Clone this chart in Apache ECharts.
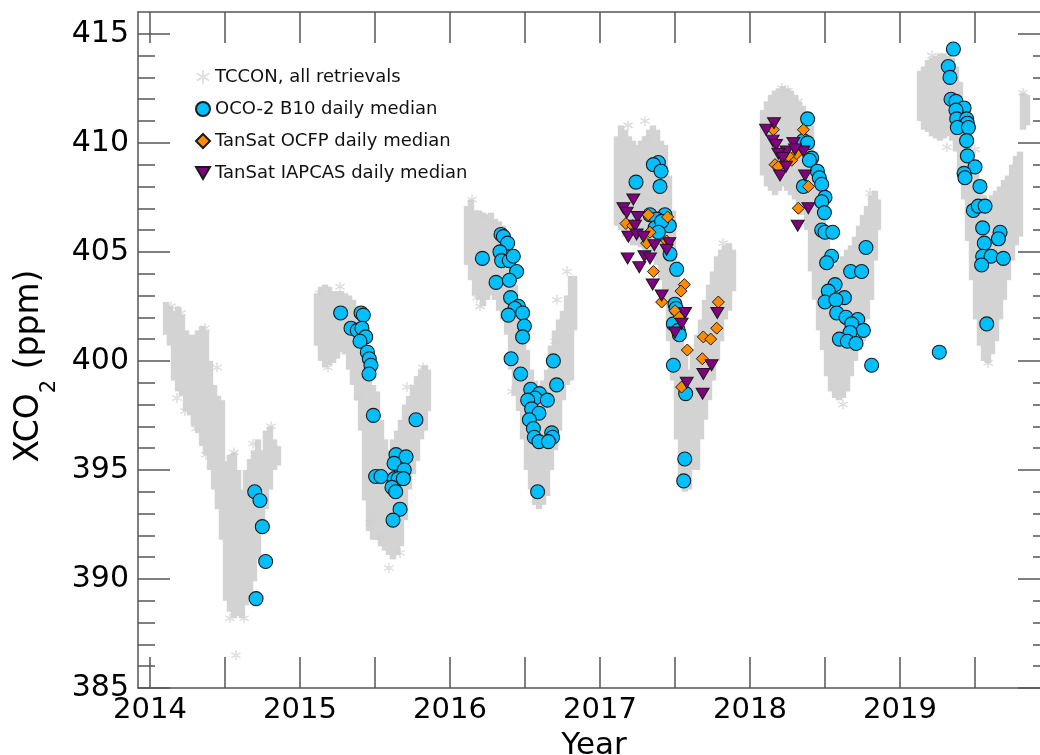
<!DOCTYPE html>
<html><head><meta charset="utf-8">
<script src="https://cdn.jsdelivr.net/npm/echarts@6/dist/echarts.min.js"></script>
<style>html,body{margin:0;padding:0;background:#fff}#c{width:1040px;height:755px}</style>
</head><body><div id="c"></div>
<script>
// ---- tick labels ----
const yearTicks = [2014, 2015, 2016, 2017, 2018, 2019];
const halfYearTicks = [2014, 2014.5, 2015, 2015.5, 2016, 2016.5, 2017, 2017.5, 2018, 2018.5, 2019, 2019.5];
const ppmMajorTicks = [385, 390, 395, 400, 405, 410, 415];
const ppmMinorTicks = [386,387,388,389,391,392,393,394,396,397,398,399,401,402,403,404,406,407,408,409,411,412,413,414,415];

// ---- TCCON, all retrievals: dense cloud read as [year, low ppm, high ppm] ----
const tcconBand = [
[2014.107,401.2,402.7],[2014.133,400.7,402.5],[2014.160,399.1,402.3],[2014.187,398.6,402.5],[2014.213,398.4,402.1],
[2014.240,397.7,401.4],[2014.267,397.5,401.2],[2014.293,397.0,401.2],[2014.320,396.7,401.4],[2014.347,396.1,401.6],
[2014.373,395.7,401.4],[2014.400,395.0,400.0],[2014.427,394.1,398.9],[2014.453,393.2,398.4],[2014.480,391.8,398.2],
[2014.507,389.0,395.4],[2014.533,388.5,395.7],[2014.560,388.2,395.8],[2014.587,388.3,395.0],[2014.613,388.2,394.1],
[2014.640,388.8,395.0],[2014.667,389.0,395.5],[2014.693,389.9,395.9],[2014.720,390.9,396.4],[2014.747,392.7,395.9],
[2014.773,393.2,396.8],[2014.800,394.1,397.0],[2014.827,395.0,396.4],[2014.853,395.2,396.1],
[2015.113,400.7,403.1],[2015.140,400.0,403.4],[2015.167,399.7,403.5],[2015.193,399.8,403.4],[2015.220,399.9,403.2],
[2015.247,400.1,403.2],[2015.273,400.4,403.2],[2015.300,400.3,403.1],[2015.327,399.6,403.0],[2015.353,398.9,402.8],
[2015.380,398.2,402.5],[2015.407,396.8,401.4],[2015.433,393.6,400.9],[2015.460,392.2,399.6],[2015.487,391.8,398.9],
[2015.513,391.8,398.6],[2015.540,391.5,397.3],[2015.567,391.3,396.4],[2015.593,391.1,395.9],[2015.620,390.9,396.4],
[2015.647,391.1,396.8],[2015.673,391.5,397.3],[2015.700,392.7,398.0],[2015.727,394.1,398.4],[2015.753,394.8,398.9],
[2015.780,395.4,399.3],[2015.807,396.4,399.6],[2015.833,396.8,399.8],[2015.853,397.7,399.6],
[2016.113,404.4,407.1],[2016.140,403.7,407.4],[2016.167,403.0,406.9],[2016.193,402.8,406.9],[2016.220,402.5,406.8],
[2016.247,402.8,406.7],[2016.273,403.0,406.8],[2016.300,402.8,406.5],[2016.327,402.3,406.4],[2016.353,401.9,406.2],
[2016.380,401.2,405.5],[2016.407,399.6,404.6],[2016.433,398.4,403.5],[2016.460,397.7,402.8],[2016.487,396.4,401.4],
[2016.513,395.0,400.5],[2016.540,394.1,399.6],[2016.567,393.4,399.1],[2016.593,393.2,398.9],[2016.620,393.4,399.1],
[2016.647,393.8,399.6],[2016.673,395.0,400.7],[2016.700,395.9,401.4],[2016.727,396.8,401.9],[2016.753,398.2,402.3],
[2016.780,398.9,403.0],[2016.807,399.1,403.9],[2016.827,401.4,403.9],
[2017.113,406.2,410.3],[2017.140,406.0,410.8],[2017.167,405.7,410.6],[2017.193,405.5,410.3],[2017.220,405.3,410.1],
[2017.247,405.3,409.9],[2017.273,405.2,410.1],[2017.300,405.1,410.3],[2017.327,404.8,410.6],[2017.353,404.6,410.8],
[2017.380,404.4,410.6],[2017.407,403.7,410.1],[2017.433,402.8,409.9],[2017.460,400.9,408.5],[2017.487,399.1,406.9],
[2017.513,396.4,404.6],[2017.540,394.5,402.3],[2017.567,394.0,400.5],[2017.593,394.1,399.6],[2017.620,395.0,400.5],
[2017.647,395.0,401.2],[2017.673,396.4,401.9],[2017.700,397.3,402.8],[2017.727,398.2,403.5],[2017.753,399.1,404.1],
[2017.780,400.0,404.8],[2017.807,400.9,405.1],[2017.833,401.9,405.3],[2017.860,402.3,405.4],[2017.887,403.2,405.1],
[2018.087,408.5,411.5],[2018.113,408.0,411.9],[2018.140,407.8,412.2],[2018.167,407.6,412.4],[2018.193,407.8,412.5],
[2018.220,408.0,412.6],[2018.247,407.8,412.5],[2018.273,407.6,412.4],[2018.300,407.4,412.2],[2018.327,407.1,411.9],
[2018.353,406.7,411.7],[2018.380,406.0,411.2],[2018.407,404.1,410.8],[2018.433,402.8,409.6],[2018.460,401.4,408.5],
[2018.487,400.5,407.4],[2018.513,399.3,406.0],[2018.540,398.6,405.1],[2018.567,398.3,404.4],[2018.593,398.2,404.6],
[2018.620,398.3,404.8],[2018.647,398.6,405.1],[2018.673,399.3,405.3],[2018.700,400.0,405.7],[2018.727,400.5,406.2],
[2018.753,400.9,406.7],[2018.780,401.9,407.1],[2018.807,402.8,407.6],[2018.833,404.6,407.8],[2018.853,406.0,407.4],
[2019.133,411.0,413.3],[2019.160,410.6,413.5],[2019.187,410.5,413.8],[2019.213,410.3,413.9],[2019.240,410.2,414.0],
[2019.267,410.1,414.1],[2019.293,410.2,414.1],[2019.320,410.3,414.0],[2019.347,410.1,413.9],[2019.373,409.6,413.5],
[2019.400,408.7,412.8],[2019.427,407.4,411.5],[2019.453,405.5,410.1],[2019.480,403.7,409.2],[2019.507,401.9,408.7],
[2019.533,400.7,408.3],[2019.560,400.0,407.6],[2019.587,399.9,407.4],[2019.613,400.3,407.6],[2019.640,400.9,407.8],
[2019.667,401.9,408.0],[2019.693,402.8,408.3],[2019.720,403.7,408.5],[2019.747,404.6,409.0],[2019.773,405.3,409.4],
[2019.800,405.7,409.6],[2019.820,410.6,412.3],[2019.847,410.8,412.2]
];
// isolated TCCON retrievals outside the dense cloud [year, ppm]
const tcconOutliers = [
[2014.447,399.7],[2014.687,396.2],[2014.807,397.0],[2014.573,386.5],[2014.533,388.2],[2014.627,388.2],[2014.233,397.7],
[2014.307,396.9],[2014.373,395.7],[2014.180,398.3],[2014.140,402.5],[2014.207,402.2],[2014.367,401.5],[2014.560,395.8],
[2015.593,390.5],[2015.467,392.6],[2015.533,391.9],[2015.667,391.2],[2015.820,399.7],[2015.713,398.8],[2015.400,398.3],
[2015.133,403.1],[2015.267,403.4],[2015.187,399.7],
[2016.147,407.4],[2016.220,406.6],[2016.287,406.4],[2016.180,402.9],[2016.200,402.5],[2016.713,402.8],[2016.700,400.9],
[2016.413,398.6],[2016.580,393.5],[2016.780,404.1],
[2017.187,410.8],[2017.300,411.0],[2017.320,410.2],[2017.820,405.4],
[2018.213,412.5],[2018.253,412.4],[2018.320,411.9],[2018.620,398.0],[2018.800,407.7],
[2019.213,414.0],[2019.313,409.8],[2019.587,399.9],[2019.820,412.3],[2019.500,409.7]
];

// ---- OCO-2 B10 daily median [year, ppm] ----
const oco2 = [
[2014.698,394.0],[2014.733,393.6],[2014.749,392.4],[2014.771,390.8],[2014.707,389.1],
[2015.271,402.2],[2015.407,402.2],[2015.422,402.1],[2015.340,401.5],[2015.382,401.4],[2015.413,401.5],[2015.438,401.1],
[2015.400,400.9],[2015.449,400.4],[2015.462,400.1],[2015.473,399.8],[2015.460,399.4],[2015.489,397.5],[2015.773,397.3],
[2015.504,394.7],[2015.540,394.7],[2015.640,395.7],[2015.707,395.6],[2015.627,395.3],[2015.695,395.0],[2015.629,394.6],
[2015.655,394.6],[2015.689,394.6],[2015.613,394.2],[2015.638,394.0],[2015.667,393.2],[2015.620,392.7],
[2016.216,404.7],[2016.340,405.8],[2016.356,405.7],[2016.384,405.4],[2016.333,405.0],[2016.344,404.6],[2016.395,404.6],
[2016.422,404.8],[2016.307,403.6],[2016.444,404.1],[2016.396,403.7],[2016.404,402.9],[2016.456,402.5],[2016.433,402.4],
[2016.484,402.2],[2016.389,402.1],[2016.496,401.6],[2016.484,401.1],[2016.407,400.1],[2016.689,400.0],[2016.471,399.4],
[2016.711,398.9],[2016.538,398.7],[2016.596,398.5],[2016.567,398.3],[2016.518,398.2],[2016.649,398.2],[2016.544,397.8],
[2016.593,397.6],[2016.529,397.3],[2016.556,396.9],[2016.678,396.7],[2016.684,396.5],[2016.562,396.5],[2016.593,396.3],
[2016.656,396.3],[2016.584,394.0],
[2017.389,409.1],[2017.356,409.0],[2017.407,408.7],[2017.240,408.2],[2017.400,408.0],[2017.333,406.7],[2017.433,406.7],
[2017.378,406.5],[2017.462,406.2],[2017.367,406.1],[2017.411,406.4],[2017.389,405.9],[2017.467,404.9],[2017.511,404.2],
[2017.500,402.6],[2017.507,402.4],[2017.489,401.7],[2017.522,401.4],[2017.529,401.2],[2017.489,399.8],[2017.571,398.5],
[2017.565,395.5],[2017.558,394.5],
[2018.384,411.1],[2018.356,410.1],[2018.384,410.0],[2018.411,409.3],[2018.396,409.2],[2018.449,408.7],[2018.462,408.4],
[2018.478,408.1],[2018.356,408.0],[2018.500,407.5],[2018.478,407.3],[2018.496,406.8],[2018.478,406.0],[2018.500,405.9],
[2018.551,405.9],[2018.773,405.2],[2018.544,404.8],[2018.511,404.5],[2018.671,404.1],[2018.744,404.1],[2018.567,403.5],
[2018.522,403.2],[2018.629,402.9],[2018.500,402.7],[2018.573,402.8],[2018.578,402.2],[2018.640,402.0],[2018.718,401.9],
[2018.678,401.7],[2018.756,401.4],[2018.667,401.3],[2018.596,401.0],[2018.649,400.9],[2018.707,400.8],[2018.811,399.8],
[2019.356,414.3],[2019.322,413.5],[2019.333,413.0],[2019.340,412.0],[2019.373,411.9],[2019.427,411.6],[2019.373,411.5],
[2019.378,411.1],[2019.444,411.1],[2019.449,410.9],[2019.382,410.7],[2019.456,410.7],[2019.444,410.1],[2019.449,409.4],
[2019.500,408.9],[2019.427,408.6],[2019.433,408.4],[2019.533,408.0],[2019.489,406.9],[2019.522,407.1],[2019.567,407.1],
[2019.551,406.1],[2019.667,405.9],[2019.656,405.6],[2019.562,405.4],[2019.551,404.8],[2019.607,404.8],[2019.689,404.7],
[2019.544,404.4],[2019.578,401.7],[2019.262,400.4]
];

// ---- TanSat OCFP daily median [year, ppm] ----
const ocfp = [
[2017.322,406.7],[2017.451,406.6],[2017.173,406.3],[2017.218,406.2],[2017.333,405.9],[2017.311,405.4],[2017.444,405.5],
[2017.356,404.1],[2017.562,403.5],[2017.540,403.2],[2017.411,402.7],[2017.789,402.7],[2017.500,402.3],[2017.529,402.0],
[2017.778,401.5],[2017.689,401.1],[2017.738,401.0],[2017.582,400.5],[2017.682,400.1],[2017.544,398.8],
[2018.156,410.6],[2018.356,410.6],[2018.167,409.0],[2018.189,408.9],[2018.278,409.2],[2018.311,409.5],[2018.256,409.4],
[2018.389,408.0],[2018.322,407.0]
];

// ---- TanSat IAPCAS daily median [year, ppm] ----
const iapcas = [
[2017.222,407.4],[2017.156,407.0],[2017.178,406.8],[2017.251,406.6],[2017.233,406.2],[2017.189,405.7],[2017.244,405.8],
[2017.289,405.7],[2017.362,405.3],[2017.462,405.4],[2017.444,405.1],[2017.184,404.7],[2017.296,404.8],[2017.333,404.7],
[2017.262,404.3],[2017.351,403.5],[2017.411,403.0],[2017.567,402.2],[2017.782,402.2],[2017.544,401.7],[2017.500,401.3],
[2017.744,399.8],[2017.689,399.4],[2017.578,399.0],[2017.684,398.5],
[2018.160,410.9],[2018.107,410.6],[2018.151,410.1],[2018.173,409.9],[2018.289,410.0],[2018.356,409.6],[2018.244,409.6],
[2018.300,409.7],[2018.189,409.5],[2018.218,409.3],[2018.200,408.5],[2018.240,408.9],[2018.367,408.5],[2018.389,407.0],
[2018.318,406.2]
];

const FONT = 'DejaVu Sans';
const AX = '#555';
const STAR = 'path://M4.4,0L5.6,0L5.6,10L4.4,10ZM0.37,3.02L0.97,1.98L9.63,6.98L9.03,8.02ZM9.63,3.02L9.03,1.98L0.37,6.98L0.97,8.02Z';
const TRI_DOWN = 'path://M0,0L10,0L5,8.66Z';
const X_MIN = 2013.92, X_MAX = 2020, Y_MIN = 385, Y_MAX = 416;

function xAx(pos) {
  return {
    type: 'value', position: pos, min: X_MIN, max: X_MAX,
    splitLine: {show: false},
    axisLine: {show: true, onZero: false, lineStyle: {color: AX, width: 1.5}},
    axisTick: {show: true, inside: true, length: 31, customValues: halfYearTicks, lineStyle: {color: AX, width: 1.5}},
    axisLabel: pos === 'bottom'
      ? {show: true, customValues: yearTicks, formatter: v => String(Math.round(v)), fontSize: 29, fontFamily: FONT, color: '#000', margin: 8}
      : {show: false}
  };
}
function yAx(pos, major) {
  return {
    type: 'value', position: pos, min: Y_MIN, max: Y_MAX,
    splitLine: {show: false},
    axisLine: {show: major, onZero: false, lineStyle: {color: AX, width: 1.5}},
    axisTick: {show: true, inside: true, length: major ? 32 : 17, customValues: major ? ppmMajorTicks : ppmMinorTicks, lineStyle: {color: AX, width: 1.5}},
    axisLabel: (major && pos === 'left')
      ? {show: true, customValues: ppmMajorTicks, formatter: v => String(Math.round(v)), fontSize: 30, fontFamily: FONT, color: '#000', margin: 9}
      : {show: false}
  };
}

const chart = echarts.init(document.getElementById('c'), null, {renderer: 'canvas'});
chart.setOption({
  animation: false,
  backgroundColor: '#fff',
  grid: {left: 138, top: 12, width: 912, height: 676, containLabel: false, outerBoundsMode: 'none'},
  xAxis: [
    Object.assign(xAx('bottom'), {name: 'Year', nameLocation: 'middle', nameGap: 42, nameTextStyle: {fontSize: 31, fontFamily: FONT, color: '#000'}}),
    xAx('top')
  ],
  yAxis: [yAx('left', true), yAx('left', false), yAx('right', true), yAx('right', false)],
  legend: {
    orient: 'vertical', left: 190, top: 63, itemWidth: 14, itemHeight: 14, itemGap: 14,
    textStyle: {fontSize: 18, fontFamily: FONT, color: '#111', lineHeight: 18},
    data: [
      {name: 'TCCON, all retrievals', icon: STAR, itemStyle: {color: '#d3d3d3'}},
      {name: 'OCO-2 B10 daily median', icon: 'circle'},
      {name: 'TanSat OCFP daily median', icon: 'diamond'},
      {name: 'TanSat IAPCAS daily median', icon: TRI_DOWN}
    ]
  },
  graphic: [{
    type: 'text', x: 27, y: 366, rotation: Math.PI / 2,
    style: {
      text: '{a|XCO}{b|2}{a| (ppm)}', align: 'center', verticalAlign: 'middle',
      rich: {
        a: {fontSize: 33, fontFamily: FONT, fill: '#000', lineHeight: 38, verticalAlign: 'bottom'},
        b: {fontSize: 21, fontFamily: FONT, fill: '#000', lineHeight: 38, verticalAlign: 'bottom', padding: [0, 0, -14, 0]}
      }
    }
  }],
  series: [
    {
      name: 'TCCON band', type: 'custom', xAxisIndex: 0, yAxisIndex: 0, silent: true,
      data: tcconBand, encode: {x: 0, y: [1, 2]},
      renderItem: function (params, api) {
        const t = api.coord([api.value(0), api.value(2)]);
        const b = api.coord([api.value(0), api.value(1)]);
        return {type: 'rect', shape: {x: t[0] - 3.2, y: t[1], width: 6.4, height: b[1] - t[1]}, style: {fill: '#d3d3d3'}};
      }
    },
    {
      name: 'TCCON, all retrievals', type: 'scatter', xAxisIndex: 0, yAxisIndex: 0,
      data: tcconOutliers, symbol: STAR, symbolSize: 10,
      itemStyle: {color: '#cfcfcf'}
    },
    {
      name: 'OCO-2 B10 daily median', type: 'scatter', xAxisIndex: 0, yAxisIndex: 0,
      data: oco2, symbol: 'circle', symbolSize: 14,
      itemStyle: {color: '#00bfff', borderColor: '#1a1a1a', borderWidth: 1.1, opacity: 1}
    },
    {
      name: 'TanSat OCFP daily median', type: 'scatter', xAxisIndex: 0, yAxisIndex: 0,
      data: ocfp, symbol: 'diamond', symbolSize: 12,
      itemStyle: {color: '#ff8c00', borderColor: '#1a1a1a', borderWidth: 1, opacity: 1}
    },
    {
      name: 'TanSat IAPCAS daily median', type: 'scatter', xAxisIndex: 0, yAxisIndex: 0,
      data: iapcas, symbol: TRI_DOWN, symbolSize: [13, 11],
      itemStyle: {color: '#800080', borderColor: '#1a1a1a', borderWidth: 1, opacity: 1}
    }
  ]
});
</script>
</body></html>
